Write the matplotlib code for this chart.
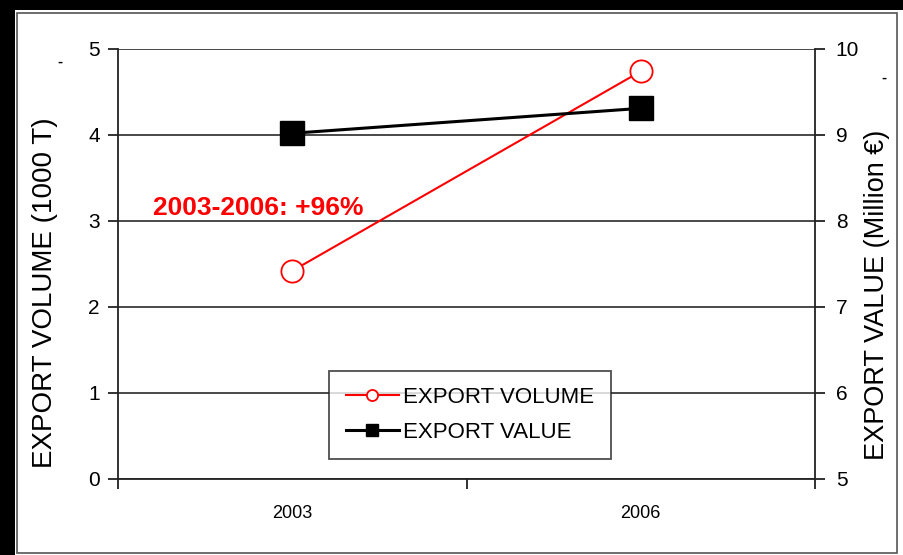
import matplotlib

matplotlib.use('Agg')
import matplotlib.pyplot as plt
from matplotlib.patches import Rectangle

plt.rcParams['font.family'] = ['Liberation Sans', 'DejaVu Sans']

years = ['2003', '2006']
export_volume = [2.42, 4.74]   # 1000 T
export_value = [9.02, 9.31]    # Million EUR
change_label = '2003-2006: +96%'

fig = plt.figure(figsize=(9.04, 5.55), dpi=100)
fig.patch.set_facecolor('white')

# black strips and grey frame round the chart
fig.patches.append(Rectangle((0, 1 - 10 / 555), 1, 10 / 555, transform=fig.transFigure,
                             facecolor='black', edgecolor='none', zorder=0))
fig.patches.append(Rectangle((0, 0), 15 / 904, 1, transform=fig.transFigure,
                             facecolor='black', edgecolor='none', zorder=0))
fig.patches.append(Rectangle((17 / 904, 2 / 555), 880 / 904, 540 / 555, transform=fig.transFigure,
                             facecolor='none', edgecolor='#555555', linewidth=1.2, zorder=0))

ax = fig.add_axes([118 / 904, 76 / 555, 697 / 904, 430 / 555])
ax2 = ax.twinx()

x = list(range(len(years)))

ax.set_xlim(-0.5, len(years) - 0.5)
ax.set_ylim(0, 5)
ax.set_yticks(range(0, 6))
ax2.set_ylim(5, 10)
ax2.set_yticks(range(5, 11))

ax.grid(axis='y', color='#3a3a3a', linewidth=1.3)
ax.set_axisbelow(True)

for a in (ax, ax2):
    for side in ('top', 'right', 'left', 'bottom'):
        a.spines[side].set_visible(False)

ax.spines['left'].set_visible(True)
ax.spines['bottom'].set_visible(True)
ax2.spines['right'].set_visible(True)
for sp in (ax.spines['left'], ax.spines['bottom'], ax2.spines['right']):
    sp.set_color('#222222')
    sp.set_linewidth(1.3)

ax.set_xticks(x)
ax.set_xticklabels(years, fontsize=13)
ax.tick_params(axis='x', which='major', length=0, pad=19)
ax.set_xticks([i - 0.5 for i in range(len(years) + 1)], minor=True)
ax.tick_params(axis='x', which='minor', length=7, width=1.3, direction='out', color='#222222')
ax.tick_params(axis='y', length=7, width=1.3, direction='out', color='#222222',
               labelsize=15, pad=6)
ax2.tick_params(axis='y', length=7, width=1.3, direction='out', color='#222222',
                labelsize=15, pad=8)

l1, = ax.plot(x, export_volume, color='#ff0000', linewidth=1.5, marker='o',
              markersize=16, markerfacecolor='white', markeredgecolor='#ff0000',
              markeredgewidth=1.3, label='EXPORT VOLUME', zorder=3)
l2, = ax2.plot(x, export_value, color='black', linewidth=2.2, marker='s',
               markersize=17, markerfacecolor='black', markeredgecolor='black',
               label='EXPORT VALUE', zorder=3)

ax.text(-0.4, 3.07, change_label, color='#ff0000', fontsize=19, fontweight='bold',
        ha='left', va='baseline')

leg = ax2.legend(handles=[l1, l2], loc='center', bbox_to_anchor=(0.505, 0.149),
                 fontsize=16, frameon=True, fancybox=False, markerscale=0.5,
                 handlelength=2.4, handletextpad=0.2, borderpad=0.75, labelspacing=0.6,
                 borderaxespad=0)
leg.get_frame().set_edgecolor('#222222')
leg.get_frame().set_linewidth(1.3)

fig.text(45 / 904, 1 - 293 / 555, 'EXPORT VOLUME (1000 T)', rotation=90, fontsize=20,
         ha='center', va='center')
fig.text(877 / 904, 1 - 295 / 555, 'EXPORT VALUE (Million €)', rotation=90, fontsize=19.5,
         ha='center', va='center')

# small stray dashes
fig.text(60 / 904, 1 - 62 / 555, '-', fontsize=11, fontweight='bold', ha='center', va='center')
fig.text(884 / 904, 1 - 78 / 555, '-', fontsize=11, fontweight='bold', ha='center', va='center')

plt.savefig('out.png', dpi=100, facecolor='white')
